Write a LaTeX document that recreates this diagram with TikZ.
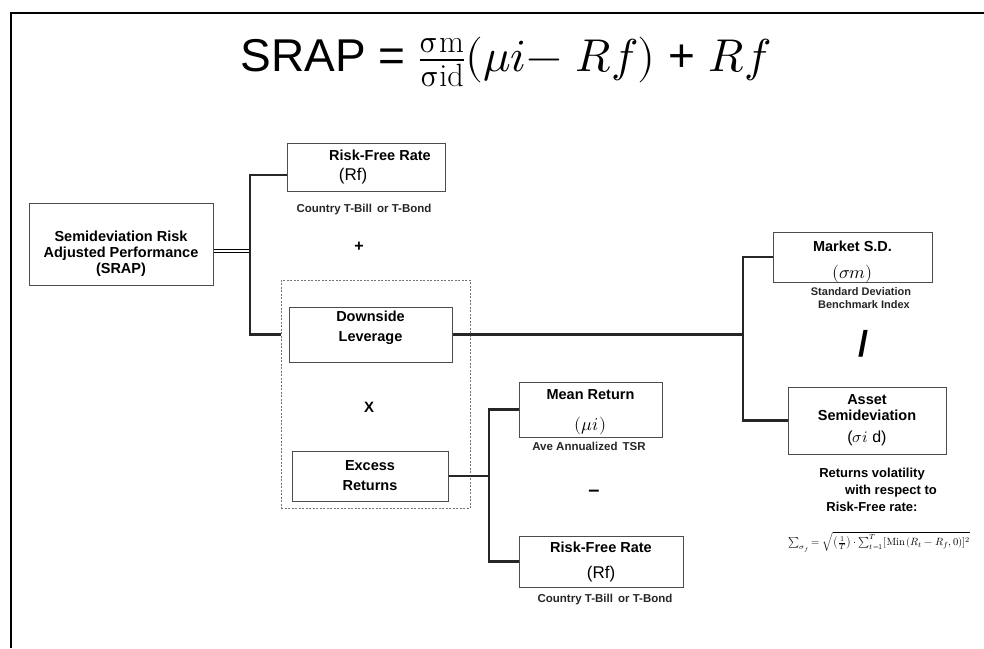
\documentclass[tikz,border=0pt]{standalone}
\usepackage{fontspec}
\usepackage{unicode-math}
\setmainfont{Liberation Sans}
\setmathfont{Latin Modern Math}
\setmathrm{Latin Modern Roman}
\usetikzlibrary{positioning}

\begin{document}
\begin{tikzpicture}[x=1pt,y=-1pt,
  box/.style={draw=black!70,line width=1pt,align=center,inner sep=0pt,
    font=\fontsize{14.5}{16}\selectfont\bfseries},
  note/.style={align=center,text=black!85,font=\fontsize{11.5}{13}\selectfont\bfseries},
  op/.style={font=\fontsize{16}{18}\selectfont\bfseries},
  tree/.style={line width=2.6pt,black!85}]
\useasboundingbox (0,0) rectangle (984,648);
\draw[line width=2pt] (11,648) -- (11,13) -- (984,13);
\node[font=\fontsize{46}{50}\selectfont] (title) at (506,62) {SRAP = $\frac{\upsigma\mathrm{m}}{\upsigma\mathrm{id}}(\mu i{-}\ Rf)$ + $Rf$};
\node[box,minimum width=184pt,minimum height=82pt] (srap) at (121,244) {\rule{0pt}{29pt}Semideviation Risk\\Adjusted Performance\\(SRAP)};
\node[box,minimum width=158pt,minimum height=48pt] (rf1) at (366,167) {\hspace*{28pt}Risk-Free Rate\\[4pt]{\mdseries\fontsize{17}{18}\selectfont (Rf)\hspace*{26pt}}};
\node[note] (rf1note) at (364,210) {Country T-Bill\, or T-Bond};
\node[op] (plus) at (359,247) {+};
\node[draw=black!55,line width=0.9pt,dash pattern=on 2pt off 1.5pt,minimum width=189pt,minimum height=228pt] (grp) at (375.5,394) {};
\node[box,minimum width=163pt,minimum height=55pt] (lev) at (370.5,334.5) {Downside\\[4pt]Leverage\rule[-17pt]{0pt}{1pt}};
\node[op,font=\fontsize{15}{18}\selectfont\bfseries] (times) at (369,407) {X};
\node[box,minimum width=156pt,minimum height=50pt] (exc) at (370,476) {Excess\\[4pt]Returns};
\node[box,minimum width=143pt,minimum height=55pt] (mean) at (590.5,409.5) {\rule{0pt}{16pt}Mean Return\\[15pt]{\mdseries\fontsize{18}{18}\selectfont$(\mu i)$}};
\node[note] (meannote) at (589,446) {Ave Annualized\, TSR};
\node[font=\fontsize{20}{24}\selectfont\bfseries] (minus) at (594,493) {–};
\node[box,minimum width=164pt,minimum height=51pt] (rf2) at (601,561.5) {Risk-Free Rate\\[10pt]{\mdseries\fontsize{17}{18}\selectfont (Rf)}};
\node[note] (rf2note) at (605,600) {Country T-Bill\, or T-Bond};
\node[box,minimum width=159pt,minimum height=50pt] (msd) at (852.5,257) {\rule{0pt}{16pt}Market S.D.\\[11pt]{\mdseries\fontsize{18}{18}\selectfont\smash{$(\sigma m)$}}};
\node[note,font=\fontsize{11}{13}\selectfont\bfseries] (msdnote) at (861,298) {Standard Deviation\\\hspace*{6pt}Benchmark Index};
\node[font=\fontsize{36}{40}\selectfont\bfseries] (div) at (863,344) {/};
\node[box,minimum width=158pt,minimum height=67pt] (asd) at (867,420.5) {Asset\\Semideviation\\[6pt]{\mdseries\fontsize{16}{18}\selectfont($\sigma i$ d)}};
\node[align=center,font=\fontsize{13}{17}\selectfont\bfseries] (vol) at (872,490) {Returns volatility\\\hspace*{38pt}with respect to\\Risk-Free rate:};
\node[font=\fontsize{10.5}{12}\selectfont] (formula) at (879,542) {$\sum_{\sigma_f} = \sqrt{\left(\frac{1}{T}\right)\cdot\sum_{t=1}^{T}[\mathrm{Min}\,(R_t - R_f,0)]^2}$};
\coordinate (j1) at (250,251);
\coordinate (j2) at (489,476);
\coordinate (j3) at (743,334.5);
\draw[line width=1.6pt,double,double distance=1.2pt] (srap.east |- j1) -- (j1);
\draw[tree] ([yshift=-8pt]rf1.west) -| (j1) |- (grp.west |- lev.west);
\draw[tree] (exc.east) -- (j2);
\draw[tree] (mean.west) -| (j2) |- (rf2.west);
\draw[tree] (lev.east) -- (j3);
\draw[tree] (msd.west) -| (j3) |- (asd.west);
\end{tikzpicture}
\end{document}
